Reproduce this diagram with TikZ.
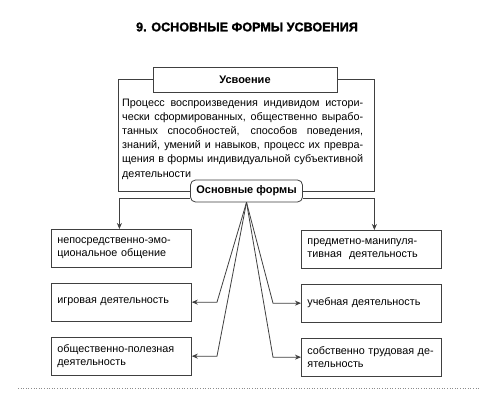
\documentclass[tikz,border=0pt]{standalone}
\usepackage{fontspec}
\setmainfont{Liberation Sans}
\newfontfamily\heavyfont[FakeBold=1.6]{Liberation Sans Bold}
\usetikzlibrary{arrows.meta}

\begin{document}
\begin{tikzpicture}[x=1pt,y=-1pt,every node/.style={font=\fontsize{11}{13}\selectfont},
  frame/.style={draw=black!75,line width=0.8pt},
  arr/.style={frame,-{Stealth[length=6pt,width=5pt]}},
  formbox/.style={frame,anchor=north west,align=left,inner xsep=6pt,inner ysep=2pt,
    text width=128pt,minimum height=37.5pt,font=\fontsize{10.8}{13}\selectfont}]
\useasboundingbox[fill=white] (0,0) rectangle (493,415);
% Title
\node (title) at (247,27) {\heavyfont\fontsize{12.6}{14}\selectfont 9. ОСНОВНЫЕ ФОРМЫ УСВОЕНИЯ};
% Definition block
\node[frame,fill=white,minimum width=184pt,minimum height=25pt,font=\bfseries\fontsize{11}{13}\selectfont] (usv) at (245,79.5) {Усвоение};
\node[anchor=north west,inner sep=0pt,text width=241pt,align=justify,font=\fontsize{10.8}{14.2}\selectfont] (def) at (122,98.5) {\hyphenpenalty=10000\emergencystretch=2em
Процесс воспроизведения индивидом истори-\linebreak
чески сформированных, общественно вырабо-\linebreak
танных способностей, способов поведения,\linebreak
знаний, умений и навыков, процесс их превра-\linebreak
щения в формы индивидуальной субъективной\linebreak
деятельности};
\node[frame,fill=white,rounded corners=5pt,minimum width=112pt,minimum height=22pt,font=\bfseries\fontsize{11}{13}\selectfont] (forms) at (246.5,191) {Основные формы};
\draw[frame] (usv.west) -| (118,191) -- (forms.west);
\draw[frame] (usv.east) -| (374,191) -- (forms.east);
% Left column
\node[formbox] (l1) at (51,229) {непосредственно-эмо-\\циональное общение};
\node[formbox] (l2) at (51,283) {игровая деятельность};
\node[formbox] (l3) at (51,337) {общественно-полезная\\деятельность};
% Right column
\node[formbox] (r1) at (301,230) {предметно-манипуля-\\тивная\ \ деятельность};
\node[formbox] (r2) at (301,284) {учебная деятельность};
\node[formbox] (r3) at (301,338) {\mbox{собственно трудовая де-}\\ятельность};
% Connectors
\coordinate (kl) at (217,0);
\coordinate (kr) at (273,0);
\draw[arr] ([yshift=4pt]forms.south west) -| ([xshift=-2pt]l1.north);
\draw[arr] ([yshift=4pt]forms.south east) -| ([xshift=3pt]r1.north);
\draw[arr] (forms.south) -- (kl |- l2.east) -- (l2.east);
\draw[arr] (forms.south) -- (kl |- l3.east) -- (l3.east);
\draw[arr] (forms.south) -- (kr |- r2.west) -- (r2.west);
\draw[arr] (forms.south) -- (kr |- r3.west) -- (r3.west);
% Bottom rule
\draw[black!45,dotted,line width=0.6pt] (18,388) -- (480,388);
\end{tikzpicture}
\end{document}
